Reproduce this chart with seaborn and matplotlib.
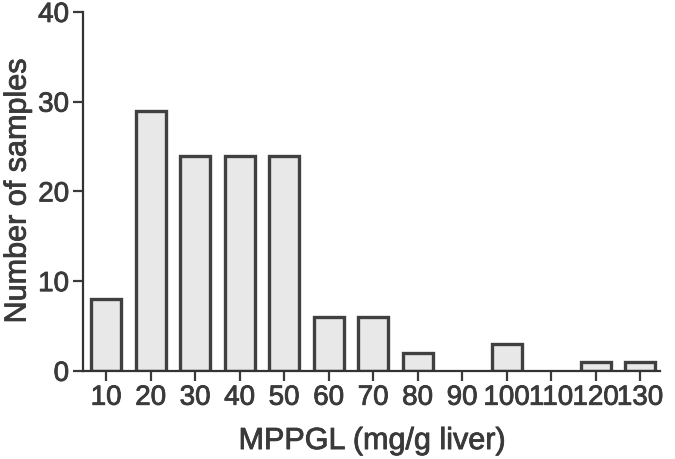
import matplotlib
matplotlib.use("Agg")
import matplotlib.pyplot as plt
import matplotlib.patheffects as pe
import seaborn as sns
import pandas as pd

bins = ["10", "20", "30", "40", "50", "60", "70", "80", "90", "100", "110", "120", "130"]
counts = [8, 29, 24, 24, 24, 6, 6, 2, 0, 3, 0, 1, 1]
y_ticks = [0, 10, 20, 30, 40]

df = pd.DataFrame({"bin": bins, "count": counts})

sns.set_style("ticks")
plt.rcParams['font.family'] = ['Liberation Sans', 'DejaVu Sans']
txt = "#3a3a3a"
thick = [pe.withStroke(linewidth=0.6, foreground=txt)]

fig = plt.figure(figsize=(6.75, 4.59), dpi=100)
ax = fig.add_axes([0.123, 0.192, 0.855, 0.782])

sns.barplot(data=df, x="bin", y="count", order=bins, ax=ax,
            color="#e8e8e8", edgecolor="#404040", linewidth=2.4,
            width=0.68, saturation=1)
for p in ax.patches:
    if p.get_height() == 0:
        p.set_visible(False)

ax.set_ylim(0, 40)
ax.set_xlim(-0.52, 12.45)
ax.set_yticks(y_ticks)
xl = ax.set_xlabel("MPPGL (mg/g liver)", fontsize=22, color=txt, labelpad=11)
yl = ax.set_ylabel("Number of samples", fontsize=22, color=txt, labelpad=4)
xl.set_path_effects(thick)
yl.set_path_effects(thick)
ax.tick_params(axis="both", labelsize=20, colors=txt, length=7, width=1.6, pad=3)
for lab in ax.get_xticklabels() + ax.get_yticklabels():
    lab.set_path_effects(thick)
for s in ["left", "bottom"]:
    ax.spines[s].set_linewidth(1.6)
    ax.spines[s].set_color("#333333")
for s in ["top", "right"]:
    ax.spines[s].set_visible(False)

fig.savefig("out.png", dpi=100)
